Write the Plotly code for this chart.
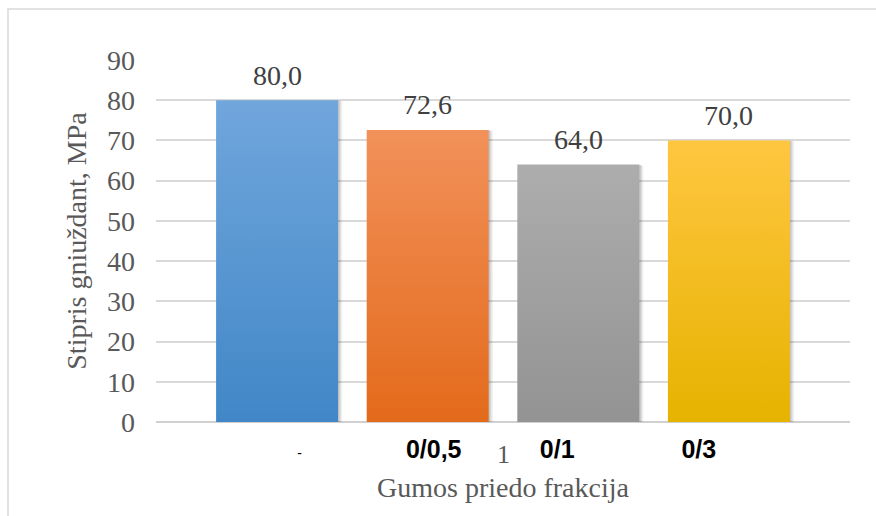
import plotly.graph_objects as go

# Compressive strength by rubber additive fraction
categories = ["-", "0/0,5", "0/1", "0/3"]
strength = [80.0, 72.6, 64.0, 70.0]
y_ticks = [0, 10, 20, 30, 40, 50, 60, 70, 80, 90]

# Gradient colours per bar (bottom, top)
bar_colors = [("#4187c7", "#70a6dc"),
              ("#e36a1b", "#f2915a"),
              ("#939393", "#adadad"),
              ("#e6b300", "#ffc640")]

BAR_W = 0.81
SERIF = "Liberation Serif"
SANS = "Liberation Sans"

fig = go.Figure()

xs = list(range(len(categories)))

# soft shadow behind each bar
for i, v in zip(xs, strength):
    for dx, dy, a in [(0.028, -0.7, 0.06), (0.018, -0.45, 0.08), (0.01, -0.25, 0.1)]:
        x0, x1 = i - BAR_W / 2 + dx * 0.5, i + BAR_W / 2 + dx
        fig.add_trace(go.Scatter(
            x=[x0, x1, x1, x0, x0], y=[dy, dy, v + dy * 0.3, v + dy * 0.3, dy],
            fill="toself", mode="lines", line=dict(width=0),
            fillcolor=f"rgba(0,0,0,{a})", hoverinfo="skip", showlegend=False))

# bars with vertical gradient
for i, v, (c0, c1) in zip(xs, strength, bar_colors):
    x0, x1 = i - BAR_W / 2, i + BAR_W / 2
    fig.add_trace(go.Scatter(
        x=[x0, x1, x1, x0, x0], y=[0, 0, v, v, 0],
        fill="toself", mode="lines", line=dict(width=0),
        fillgradient=dict(type="vertical", start=0, stop=v,
                          colorscale=[[0, c0], [1, c1]]),
        hoverinfo="skip", showlegend=False))

# value labels above the bars
value_labels = [dict(x=i, y=v, xref="x", yref="y", yshift=25, yanchor="middle",
                     text=f"{v:.1f}".replace(".", ","), showarrow=False,
                     font=dict(family=SERIF, size=28, color="#404040"))
                for i, v in zip(xs, strength)]

label_offsets = [0.15, 0.04, -0.14, -0.2]
# the lone dash label is set in a small, regular weight
tick_text = ['<span style="font-size:14px;font-weight:normal">-</span>' if c == "-" else c
             for c in categories]

fig.update_layout(
    width=876, height=516,
    margin=dict(l=156, r=26, t=60, b=94),
    paper_bgcolor="white", plot_bgcolor="white",
    xaxis=dict(
        range=[-0.804, 3.804], showgrid=False, zeroline=False,
        showline=False,
        tickvals=[i + o for i, o in zip(xs, label_offsets)],
        ticktext=tick_text,
        tickfont=dict(family=SANS, size=25, color="#000000", weight="bold"),
        ticks="", ticklabelstandoff=10,
        title=dict(text="Gumos priedo frakcija",
                   font=dict(family=SERIF, size=28, color="#595959"),
                   standoff=15),
    ),
    yaxis=dict(
        range=[0, 90], tickvals=y_ticks,
        showgrid=True, gridcolor="#d9d9d9", gridwidth=1.5,
        zeroline=True, zerolinecolor="#d0d0d0", zerolinewidth=1.5,
        tickfont=dict(family=SERIF, size=28, color="#595959"),
        ticks="", ticklabelstandoff=20,
        title=dict(text="Stipris gniuždant, MPa",
                   font=dict(family=SERIF, size=28, color="#595959"),
                   standoff=12),
    ),
    shapes=[dict(type="rect", xref="paper", yref="paper",
                 x0=(8 - 156) / 694, x1=(900 - 156) / 694,
                 y0=(422 - 540) / 362, y1=(422 - 9) / 362,
                 line=dict(color="#d9d9d9", width=1.5), layer="below")],
    annotations=value_labels + [
        dict(x=1.5, y=0, xref="x", yref="y", yshift=-32, yanchor="middle",
             text="1", showarrow=False,
             font=dict(family=SERIF, size=26, color="#595959"))],
)

fig.write_html("out.html")
